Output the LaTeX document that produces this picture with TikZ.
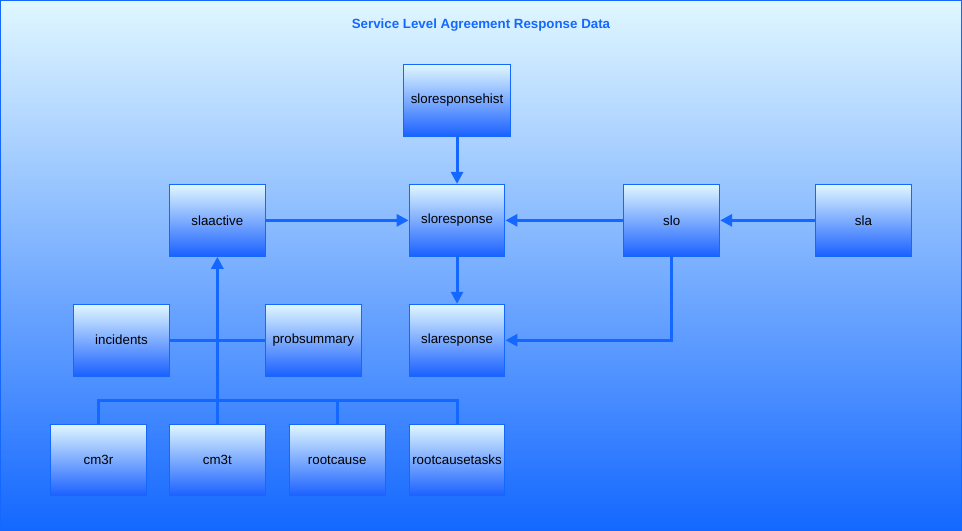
\documentclass[tikz,border=0pt]{standalone}
\usepackage{fontspec}
\setmainfont{Liberation Sans}
\usetikzlibrary{positioning,arrows.meta}
\definecolor{slablue}{RGB}{20,104,255}
\definecolor{slapale}{RGB}{224,247,255}
\definecolor{slamid}{RGB}{165,198,255}
\definecolor{slabottom}{RGB}{26,96,255}

\begin{document}
\begin{tikzpicture}[x=0.75pt, y=-0.75pt,
		tbl/.style={draw=slablue, line width=0.75pt, minimum width=72pt, minimum height=54pt, inner sep=2pt, top color=slapale, middle color=slamid, bottom color=slabottom, text=black, font=\fontsize{10}{12}\selectfont},
		link/.style={draw=slablue, line width=2.2pt},
		arr/.style={link, -{Triangle[length=9pt, width=9pt]}}]
		%Hintergrund
		\path[use as bounding box, top color=slapale, middle color=slamid!90!slablue, bottom color=slablue, draw=slablue, line width=1pt] (0,0) rectangle (962,530);
		\node (title) at (481,24) [font=\fontsize{10}{12}\selectfont\bfseries, text=slablue] {Service Level Agreement Response Data};
		\node (hist) at (457,100) [tbl, minimum width=81pt] {sloresponsehist};
		\node (active) at (217,220) [tbl] {slaactive};
		\node (resp) at (457,220) [tbl] {sloresponse};
		\node (slo) at (672,220) [tbl] {slo};
		\node (sla) at (864,220) [tbl] {sla};
		\node (incidents) at (121,340) [tbl] {incidents};
		\node (probsum) at (313,340) [tbl] {probsummary};
		\node (slaresp) at (457,340) [tbl] {slaresponse};
		\node (cm3r) at (98,460) [tbl] {cm3r};
		\node (cm3t) at (217,460) [tbl] {cm3t};
		\node (rootcause) at (337,460) [tbl] {rootcause};
		\node (rctasks) at (457,460) [tbl] {rootcausetasks};
		\coordinate (bus) at (217,400);
		%Verbindungen
		\draw[arr] (hist) -- (resp);
		\draw[arr] (active) -- (resp);
		\draw[arr] (slo) -- (resp);
		\draw[arr] (sla) -- (slo);
		\draw[arr] (resp) -- (slaresp);
		\draw[arr] (slo) |- (slaresp);
		\draw[link] (incidents) -- (probsum);
		\draw[link] (cm3r) |- (bus) -| (rctasks);
		\draw[link] (rootcause) -- (rootcause |- bus);
		\draw[arr] (cm3t) -- (active);
	\end{tikzpicture}
\end{document}
